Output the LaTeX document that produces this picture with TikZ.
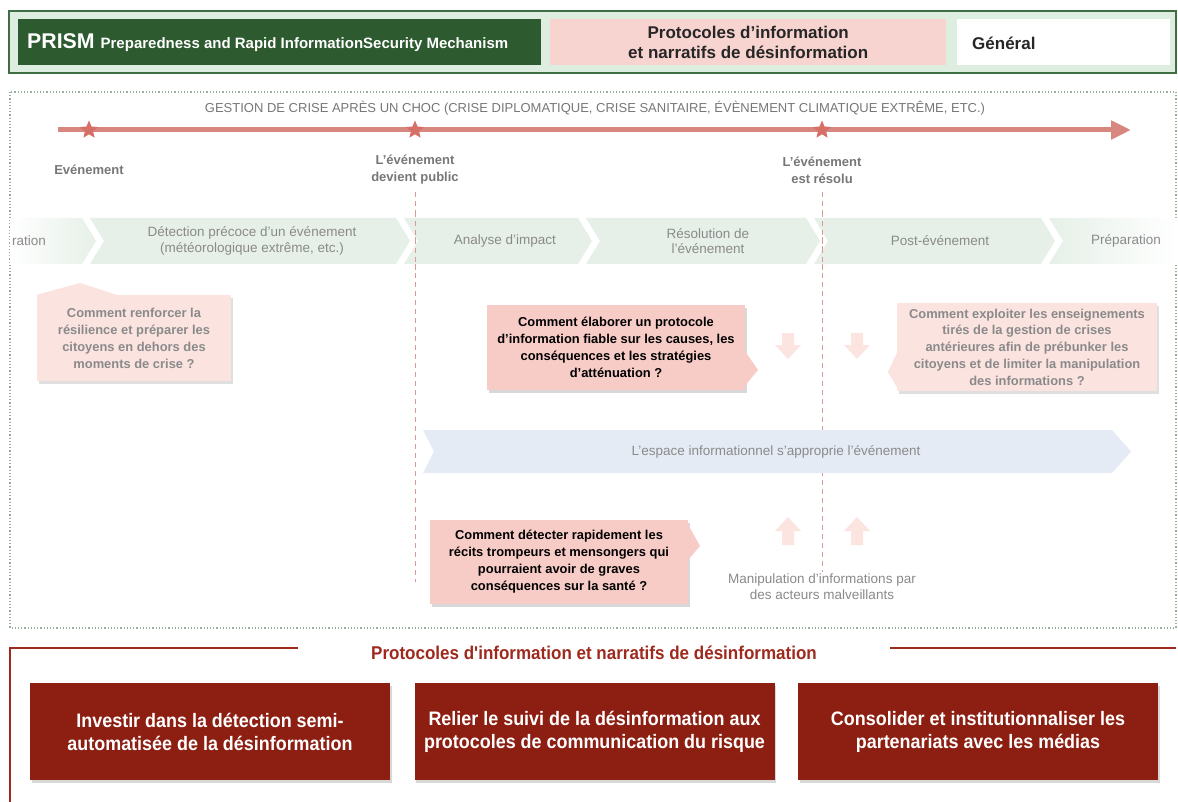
\documentclass[tikz,border=0pt]{standalone}
\usepackage{fontspec}
\setmainfont{Liberation Sans}
\newfontfamily\condf[FakeStretch=0.92]{Liberation Sans}
\usetikzlibrary{shapes.geometric,arrows.meta,shadows}
\definecolor{hdrgreen}{HTML}{2E5A30}
\definecolor{hdrlight}{HTML}{DDEDE0}
\definecolor{hdrborder}{HTML}{3F6E45}
\definecolor{pinkhdr}{HTML}{F8D4D0}
\definecolor{tline}{HTML}{D8877F}
\definecolor{tstar}{HTML}{D66F66}
\definecolor{gtext}{HTML}{8A8A8A}
\definecolor{gdark}{HTML}{777777}
\definecolor{band}{HTML}{E6F0E8}
\definecolor{blueband}{HTML}{E5EBF5}
\definecolor{calloutlight}{HTML}{FBE3E0}
\definecolor{calloutdark}{HTML}{F7CCC7}
\definecolor{arrowpink}{HTML}{FCE4E1}
\definecolor{dashred}{HTML}{DB9993}
\definecolor{frameg}{HTML}{98AE9A}
\definecolor{darkred}{HTML}{8C1E12}
\definecolor{titlered}{HTML}{9E2A1E}
\begin{document}
\begin{tikzpicture}[x=1pt,y=-1pt,
  lbl/.style={text=gdark, font=\bfseries\fontsize{13}{17}\selectfont, align=center},
  phase/.style={text=gtext, font=\fontsize{13.5}{15.5}\selectfont, align=center},
  tstarnode/.style={star, star points=5, star point ratio=2.2, fill=tstar, inner sep=0, minimum size=19},
  calloutA/.style={fill=calloutlight, text=gtext, font=\bfseries\fontsize{12.9}{17}\selectfont, align=center, inner sep=0, drop shadow={opacity=0.25, shadow xshift=1.5pt, shadow yshift=-3pt}},
  calloutB/.style={fill=calloutdark, text=black, font=\bfseries\fontsize{12.9}{17}\selectfont, align=center, inner sep=0, drop shadow={opacity=0.3, shadow xshift=1.5pt, shadow yshift=-3pt}},
  redbox/.style={fill=darkred, text=white, font=\condf\bfseries\fontsize{19.5}{23}\selectfont, align=center, minimum width=360, minimum height=97, inner sep=0, drop shadow={opacity=0.3, shadow xshift=1.5pt, shadow yshift=-2.5pt}},
  vdash/.style={dashred, dash pattern=on 5pt off 4pt, line width=1},
  uparrow/.style={fill=arrowpink}
]
\useasboundingbox (0,0) rectangle (1178,802);
\fill[white] (0,0) rectangle (1178,802);

% ---------- header ----------
\draw[hdrborder, line width=1.5, fill=hdrlight] (9,11) rectangle (1176,73);
\node[fill=hdrgreen, minimum width=523, minimum height=46, anchor=north west, inner sep=0] (prismbox) at (18,19) {};
\node[anchor=west, text=white, inner sep=0] (prismtxt) at (27,43) {{\bfseries\fontsize{21.3}{22}\selectfont PRISM}\hspace{6pt}{\bfseries\fontsize{15}{16}\selectfont Preparedness and Rapid InformationSecurity Mechanism}};
\node[fill=pinkhdr, minimum width=396, minimum height=46, anchor=north west, inner sep=0, font=\bfseries\fontsize{17}{20}\selectfont, align=center, text=black!85] (pinkbox) at (550,19) {Protocoles d'information\\et narratifs de désinformation};
\node[fill=white, minimum width=213, minimum height=46, anchor=north west, inner sep=0] (genbox) at (957,19) {};
\node[anchor=west, inner sep=0, font=\bfseries\fontsize{17}{18}\selectfont, text=black!85] (gentxt) at (972,43) {Général};

% ---------- crisis frame ----------
\draw[frameg, dotted, line width=1.2] (10,92) rectangle (1176,628);
\node[text=gdark, font=\fontsize{13}{15}\selectfont] (gtitle) at (595,108) {GESTION DE CRISE APRÈS UN CHOC (CRISE DIPLOMATIQUE, CRISE SANITAIRE, ÉVÈNEMENT CLIMATIQUE EXTRÊME, ETC.)};

% timeline
\coordinate (tl0) at (58,130);
\coordinate (tl1) at (1131,130);
\draw[tline, line width=5, -{Triangle[length=20pt, width=18pt]}] (tl0) -- (tl1);
\node[tstarnode] (s1) at (89,130) {};
\node[tstarnode] (s2) at (415,130) {};
\node[tstarnode] (s3) at (822,130) {};

\node[lbl] (ev) at (89,170) {Evénement};
\node[lbl] (pub) at (415,170) {L'événement\\devient public};
\node[lbl] (res) at (822,170) {L'événement\\est résolu};

\coordinate (d1a) at (415,192);
\coordinate (d1b) at (415,582);
\coordinate (d2a) at (822,192);
\coordinate (d2b) at (822,572);
\draw[vdash] (d1a) -- (d1b);
\draw[vdash] (d2a) -- (d2b);

% phase band
\shade[left color=white, right color=band] (10,218) -- (82,218) -- (96,241) -- (82,264) -- (10,264) -- cycle;
\fill[band] (90,218) -- (396,218) -- (410,241) -- (396,264) -- (90,264) -- (104,241) -- cycle;
\fill[band] (404,218) -- (578,218) -- (592,241) -- (578,264) -- (404,264) -- (418,241) -- cycle;
\fill[band] (586,218) -- (806,218) -- (820,241) -- (806,264) -- (586,264) -- (600,241) -- cycle;
\fill[band] (814,218) -- (1041,218) -- (1055,241) -- (1041,264) -- (814,264) -- (828,241) -- cycle;
\shade[left color=band, right color=white] (1049,218) -- (1178,218) -- (1178,264) -- (1049,264) -- (1063,241) -- cycle;
\draw[vdash] (415,212) -- (415,270);
\draw[vdash] (822,212) -- (822,270);

\node[phase, anchor=west, inner sep=0] (ph1) at (12,241) {ration};
\node[phase] (ph2) at (252,241) {Détection précoce d'un événement\\(météorologique extrême, etc.)};
\node[phase] (ph3) at (505,241) {Analyse d'impact};
\node[phase] (ph4) at (708,241) {Résolution de\\l'événement};
\node[phase] (ph5) at (940,241) {Post-événement};
\node[phase] (ph6) at (1126,241) {Préparation};

% callouts
\node[calloutA, minimum width=194, minimum height=86] (c1) at (134,338) {Comment renforcer la\\résilience et préparer les\\citoyens en dehors des\\moments de crise ?};
\fill[calloutlight] (c1.north west) -- (80,283) -- ([xshift=80pt]c1.north west) -- cycle;

\node[calloutB, minimum width=258, minimum height=85] (c2) at (616,347.5) {Comment élaborer un protocole\\d'information fiable sur les causes, les\\conséquences et les stratégies\\d'atténuation ?};
\fill[calloutdark] ([yshift=-4pt]c2.east) -- (758,370) -- ([yshift=-38pt]c2.east) -- cycle;

\node[calloutA, minimum width=260, minimum height=87, font=\bfseries\fontsize{12.9}{16.8}\selectfont] (c3) at (1027,347) {Comment exploiter les enseignements\\tirés de la gestion de crises\\antérieures afin de prébunker les\\citoyens et de limiter la manipulation\\des informations ?};
\fill[calloutlight] ([yshift=-6pt]c3.west) -- (888,372) -- ([yshift=-40pt]c3.west) -- cycle;

% block arrows
\foreach \ax in {788,857} {
  \fill[uparrow, shift={(\ax,333)}] (-6,0) -- (6,0) -- (6,12) -- (13,12) -- (0,26) -- (-13,12) -- (-6,12) -- cycle;
  \fill[uparrow, shift={(\ax,545)}] (-6,0) -- (6,0) -- (6,-14) -- (13,-14) -- (0,-28) -- (-13,-14) -- (-6,-14) -- cycle;
}

% information space band
\fill[blueband] (423,430) -- (1112,430) -- (1131,451.5) -- (1112,473) -- (423,473) -- (434,451.5) -- cycle;
\node[phase] (espace) at (776,452) {L'espace informationnel s'approprie l'événement};

\node[calloutB, minimum width=258, minimum height=84] (c4) at (559,562) {Comment détecter rapidement les\\récits trompeurs et mensongers qui\\pourraient avoir de graves\\conséquences sur la santé ?};
\fill[calloutdark] ([yshift=-5pt]c4.north east) -- (700,546) -- ([yshift=-40pt]c4.north east) -- cycle;

\node[phase, font=\fontsize{13.5}{16}\selectfont] (manip) at (822,587) {Manipulation d'informations par\\des acteurs malveillants};

% ---------- bottom section ----------
\coordinate (bl0) at (10,802);
\coordinate (bl1) at (10,648);
\coordinate (bl2) at (298,648);
\coordinate (br1) at (890,648);
\coordinate (br2) at (1176,648);
\draw[titlered, line width=1.5] (bl0) -- (bl1) -- (bl2);
\draw[titlered, line width=1.5] (br1) -- (br2);
\node[text=titlered, font=\condf\bfseries\fontsize{18.5}{20}\selectfont] (btitle) at (594,653) {Protocoles d'information et narratifs de désinformation};

\node[redbox] (r1) at (210,731.5) {Investir dans la détection semi-\\automatisée de la désinformation};
\node[redbox] (r2) at (594.5,731.5) {Relier le suivi de la désinformation aux\\protocoles de communication du risque};
\node[redbox] (r3) at (978,731.5) {Consolider et institutionnaliser les\\partenariats avec les médias};
\end{tikzpicture}
\end{document}
